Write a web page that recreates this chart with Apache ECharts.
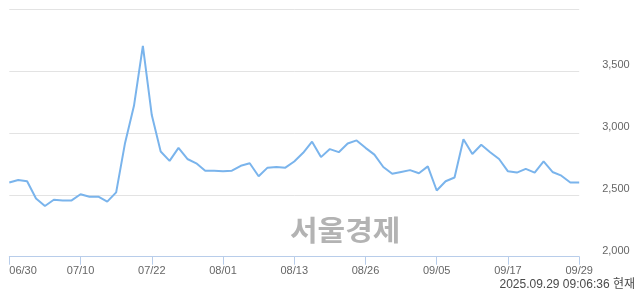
<!DOCTYPE html>
<html>
<head>
<meta charset="utf-8">
<script src="https://cdn.jsdelivr.net/npm/echarts@6/dist/echarts.min.js"></script>
<style>html,body{margin:0;padding:0;background:#fff}#c{width:640px;height:294px}</style>
</head>
<body>
<div id="c"></div>
<script>
const dates = ["06/30","07/01","07/02","07/03","07/04","07/07","07/08","07/09","07/10","07/11","07/14","07/15","07/16","07/17","07/18","07/21","07/22","07/23","07/24","07/25","07/28","07/29","07/30","07/31","08/01","08/04","08/05","08/06","08/07","08/08","08/11","08/12","08/13","08/14","08/18","08/19","08/20","08/21","08/22","08/25","08/26","08/27","08/28","08/29","09/01","09/02","09/03","09/04","09/05","09/08","09/09","09/10","09/11","09/12","09/15","09/16","09/17","09/18","09/19","09/22","09/23","09/24","09/25","09/26","09/29"];
const prices = [2600,2620,2610,2470,2410,2460,2455,2455,2505,2485,2485,2445,2520,2920,3220,3705,3145,2850,2775,2880,2790,2755,2695,2695,2690,2695,2735,2755,2650,2720,2725,2720,2770,2840,2930,2805,2870,2845,2915,2940,2880,2825,2725,2670,2685,2700,2675,2730,2535,2610,2640,2950,2830,2905,2845,2790,2690,2680,2710,2680,2770,2685,2655,2600,2600];
const yTicks = [2000,2500,3000,3500,4000];
const yTickLabels = ["2,000","2,500","3,000","3,500",""];
const stamp = "2025.09.29 09:06:36 현재";
const watermark = "서울경제";

const chart = echarts.init(document.getElementById('c'), null, {renderer:'canvas'});
chart.setOption({
  animation:false,
  grid:{left:9.3,right:60.8,top:9.3,bottom:37.3},
  xAxis:{
    type:'category', data:dates, boundaryGap:false,
    axisLine:{lineStyle:{color:'#b8cdea',width:1}},
    axisTick:{show:true,interval:7,length:8,lineStyle:{color:'#b8cdea'}},
    axisLabel:{interval:7,color:'#666',fontSize:11,fontFamily:'Liberation Sans, Arial, sans-serif',margin:9,alignMinLabel:'left'},
    splitLine:{show:false}
  },
  yAxis:{
    type:'value', position:'right', min:yTicks[0], max:yTicks[yTicks.length-1], interval:500,
    axisLine:{show:false}, axisTick:{show:false},
    splitLine:{lineStyle:{color:'#e3e3e3',width:1}},
    axisLabel:{color:'#666',fontSize:11,fontFamily:'Liberation Sans, Arial, sans-serif',margin:23,align:'left',verticalAlign:'bottom',lineHeight:12,
      formatter:function(v){const i=yTicks.indexOf(v);return i>=0?yTickLabels[i]:'';}}
  },
  graphic:[
    {type:'text',x:290,y:216,scaleX:1.07,z:0,style:{text:watermark,fill:'#b3b3b3',font:'bold 28px "Noto Sans CJK KR", sans-serif'}},
    {type:'text',right:5,top:279,style:{text:stamp,fill:'#4a4a4a',font:'12px "Liberation Sans", "Noto Sans CJK KR", sans-serif'}}
  ],
  series:[{
    type:'line', data:prices, showSymbol:false, symbol:'none',
    lineStyle:{color:'#7ab4ec',width:2}, z:5
  }]
});
</script>
</body>
</html>
